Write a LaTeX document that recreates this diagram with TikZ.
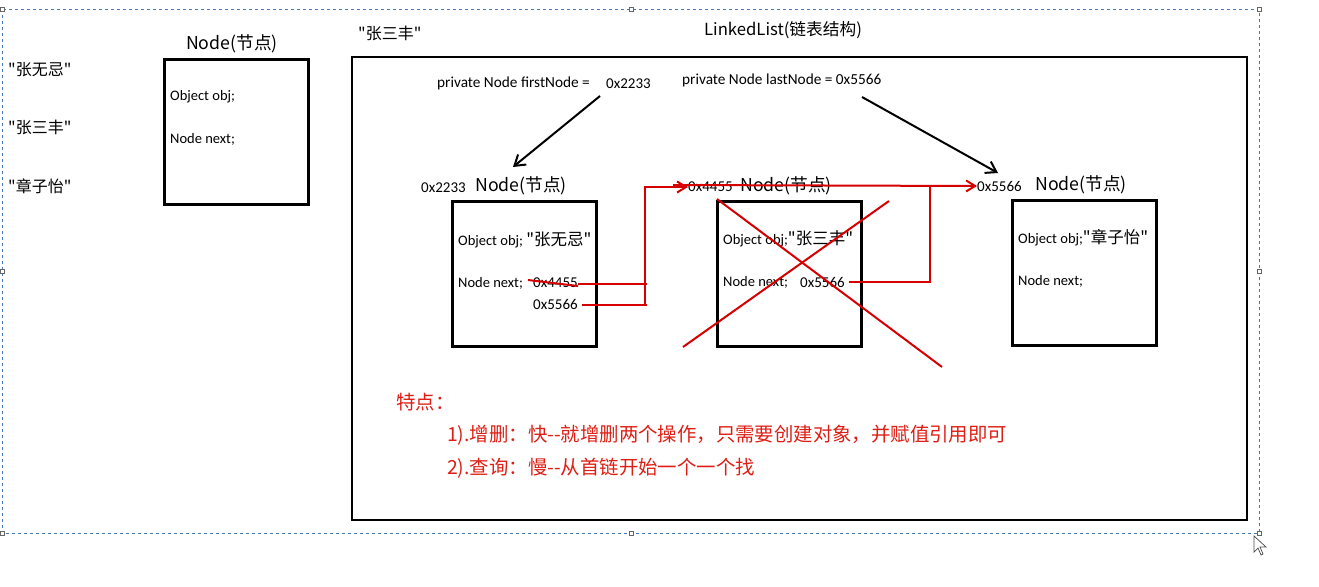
\documentclass[tikz,border=0pt]{standalone}
\usepackage{fontspec}
\setmainfont{Carlito}
\newfontfamily\cjk{Noto Sans CJK SC}
\usetikzlibrary{arrows.meta}
\definecolor{selblue}{RGB}{70,120,180}
\definecolor{penred}{RGB}{214,0,0}
\definecolor{txtred}{RGB}{222,30,20}
\newcommand{\qfont}{\cjk\fontsize{16.5}{16.5}\selectfont}
\tikzset{
  x=1pt,y=-1pt,
  boxnode/.style={draw,line width=2.6pt,minimum width=144pt,minimum height=145pt,inner sep=0pt,anchor=north west},
  lbl/.style={anchor=west,inner sep=0pt,font=\fontsize{14.5}{14.5}\selectfont},
  priv/.style={anchor=west,inner sep=0pt,font=\fontsize{15.3}{15.3}\selectfont},
  small/.style={anchor=west,inner sep=0pt,font=\fontsize{15}{15}\selectfont},
  ttl/.style={anchor=west,inner sep=0pt,font=\cjk\fontsize{17.7}{18}\selectfont},
  strs/.style={anchor=west,inner sep=0pt,font=\cjk\fontsize{16}{17}\selectfont},
  redtxt/.style={anchor=west,inner sep=0pt,text=txtred,font=\cjk\fontsize{19.4}{20}\selectfont},
  redline/.style={draw=penred,line width=2pt},
  redarrow/.style={draw=penred,line width=2pt,-{Straight Barb[length=9pt,width=11pt,line width=2pt]}},
  blkarrow/.style={draw=black,line width=2pt,-{Straight Barb[length=10pt,width=13pt,line width=2pt]}},
  handle/.style={draw=black!60,fill=white,line width=0.6pt,minimum size=4pt,inner sep=0pt},
}
\begin{document}
\begin{tikzpicture}
\useasboundingbox (0,0) rectangle (1319,586);
% selection frame
\draw[selblue,line width=0.9pt,dash pattern=on 3pt off 3pt] (2,9) rectangle (1259,533);
\foreach \p/\n in {{(2,9)}/h1,{(631,9)}/h2,{(1259,9)}/h3,{(2,271)}/h4,{(1259,271)}/h5,{(2,533)}/h6,{(631,533)}/h7,{(1259,533)}/h8}
  \node[handle] (\n) at \p {};
% mouse cursor
\draw[black!70,fill=white,line width=0.7pt] (1254,536) -- (1254,552) -- (1258,548) -- (1261,555) -- (1263,554) -- (1260,547) -- (1266,547) -- cycle;

% left strings
\node[strs] (s1) at (8,70) {"张无忌"};
\node[strs] (s2) at (8,127) {"张三丰"};
\node[strs] (s3) at (8,186) {"章子怡"};

% template node
\node[ttl,anchor=center] (t0) at (232,44) {Node(节点)};
\node[boxnode] (n0) at (163,58) {};
\node[lbl] (n0a) at (170,97) {Object obj;};
\node[lbl] (n0b) at (170,139) {Node next;};

% linked list
\node[strs] (lz) at (358,33) {"张三丰"};
\node[anchor=center,inner sep=0pt,font=\cjk\fontsize{16.7}{17}\selectfont] (ll) at (783,30) {LinkedList(链表结构)};
\draw[line width=2.6pt] (352,57) rectangle (1247,520);

\node[priv] (fn) at (437,83) {private Node firstNode =};
\node[small] (fa) at (606,84) {0x2233};
\node[priv] (ln) at (682,80) {private Node lastNode = 0x5566};

% node 1
\node[small] (a1) at (421,188) {0x2233};
\node[ttl] (t1) at (475,186) {Node(节点)};
\node[boxnode] (n1) at (451,200) {};
\node[lbl] (n1a) at (458,240) {Object obj; {\qfont"张无忌"}};
\node[lbl] (n1b) at (458,283) {Node next;};
\node[small] (n1c) at (533,283) {0x4455};
\node[small] (n1d) at (533,304) {0x5566};

% node 2
\node[small] (a2) at (688,187) {0x4455};
\node[ttl] (t2) at (740,186) {Node(节点)};
\node[boxnode] (n2) at (716,200) {};
\node[lbl] (n2a) at (723,239) {Object obj;{\qfont"张三丰"}};
\node[lbl] (n2b) at (723,282) {Node next;};
\node[small] (n2c) at (800,282) {0x5566};

% node 3
\node[small] (a3) at (977,186) {0x5566};
\node[ttl] (t3) at (1035,185) {Node(节点)};
\node[boxnode] (n3) at (1011,199) {};
\node[lbl] (n3a) at (1018,238) {Object obj;{\qfont"章子怡"}};
\node[lbl] (n3b) at (1018,281) {Node next;};

% black arrows
\coordinate (fs) at (600,96);
\coordinate (fe) at (513,167);
\coordinate (ls) at (862,97);
\coordinate (le) at (998,173);
\draw[blkarrow] (fs) -- (fe);
\draw[blkarrow] (ls) -- (le);

% red wiring
\draw[redline] (528,280) -- (578,286);
\draw[redline] (n1c.east) ++(0,1) -- (647,284);
\draw[redline] (n1d.east) ++(4,1) -- (647,305);
\draw[redline] (645,306) -- (645,186);
\draw[redarrow] (645,187) -- (a2.west);
\draw[redarrow] (673,185) -- (a3.west);
\draw[redline] (n2c.east) ++(4,0) -- (930,282) -- (930,185);
% cross over node 2
\draw[redline] (717,199) -- (942,367);
\draw[redline] (683,347) -- (889,201);

% notes
\node[redtxt] (k0) at (396,402) {特点：};
\node[redtxt] (k1) at (447,435) {1).增删：快--就增删两个操作，只需要创建对象，并赋值引用即可};
\node[redtxt] (k2) at (447,468) {2).查询：慢--从首链开始一个一个找};
\end{tikzpicture}
\end{document}
